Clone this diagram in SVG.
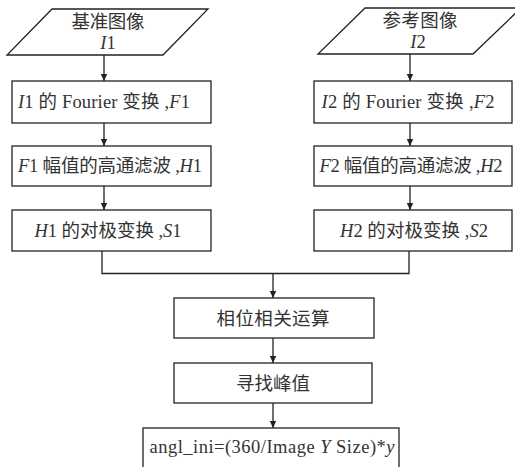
<svg xmlns="http://www.w3.org/2000/svg" width="515" height="467" viewBox="0 0 515 467">
<defs>
<style>
.n{fill:#fff;stroke:#222;stroke-width:1.3}
.c{fill:none;stroke:#222;stroke-width:1.3}
.t{font-family:"Liberation Serif","Noto Sans CJK SC",serif;font-size:18.5px;fill:#333;text-anchor:middle}
.h{font-family:"Noto Sans CJK SC",sans-serif}
.i{font-style:italic}
</style>
<marker id="a" markerWidth="8" markerHeight="8" refX="7" refY="4" orient="auto" markerUnits="userSpaceOnUse">
<path d="M0,0.8 L7,4 L0,7.2 Z" fill="#222"/>
</marker>
</defs>
<rect width="515" height="467" fill="#fff"/>
<g id="connectors">
<path class="c" d="M104,55 V81" marker-end="url(#a)"/>
<path class="c" d="M104,123 V146" marker-end="url(#a)"/>
<path class="c" d="M104,186 V210" marker-end="url(#a)"/>
<path class="c" d="M410,54 V81" marker-end="url(#a)"/>
<path class="c" d="M410,123 V146" marker-end="url(#a)"/>
<path class="c" d="M410,186 V210" marker-end="url(#a)"/>
<path class="c" d="M102,251 V273.5 H409 V251"/>
<path class="c" d="M273,273.5 V298" marker-end="url(#a)"/>
<path class="c" d="M273,338 V363" marker-end="url(#a)"/>
<path class="c" d="M273,403 V428" marker-end="url(#a)"/>
</g>
<g id="in1">
<polygon class="n" points="52,9 208,9 163,55 7,55"/>
<text class="t" x="108" y="28" textLength="73"><tspan class="h">基准图像</tspan></text>
<text class="t" x="108" y="49"><tspan class="i">I</tspan>1</text>
</g>
<g id="in2">
<polygon class="n" points="365,8 521,8 473,54 318,54"/>
<text class="t" x="420" y="27" textLength="75"><tspan class="h">参考图像</tspan></text>
<text class="t" x="418" y="48"><tspan class="i">I</tspan>2</text>
</g>
<g id="f1">
<rect class="n" x="12" y="81" width="199" height="42"/>
<text class="t" x="104" y="108" textLength="172"><tspan class="i">I</tspan>1 <tspan class="h">的</tspan> Fourier <tspan class="h">变换</tspan> ,<tspan class="i">F</tspan>1</text>
</g>
<g id="f2">
<rect class="n" x="314" y="81" width="198" height="42"/>
<text class="t" x="408" y="108" textLength="173"><tspan class="i">I</tspan>2 <tspan class="h">的</tspan> Fourier <tspan class="h">变换</tspan> ,<tspan class="i">F</tspan>2</text>
</g>
<g id="h1">
<rect class="n" x="12" y="146" width="199" height="40"/>
<text class="t" x="110" y="172" textLength="184"><tspan class="i">F</tspan>1 <tspan class="h">幅值的高通滤波</tspan> ,<tspan class="i">H</tspan>1</text>
</g>
<g id="h2">
<rect class="n" x="314" y="146" width="198" height="40"/>
<text class="t" x="411" y="172" textLength="183"><tspan class="i">F</tspan>2 <tspan class="h">幅值的高通滤波</tspan> ,<tspan class="i">H</tspan>2</text>
</g>
<g id="s1">
<rect class="n" x="12" y="210" width="199" height="41"/>
<text class="t" x="108" y="237" textLength="147"><tspan class="i">H</tspan>1 <tspan class="h">的对极变换</tspan> ,<tspan class="i">S</tspan>1</text>
</g>
<g id="s2">
<rect class="n" x="314" y="210" width="198" height="41"/>
<text class="t" x="414" y="237" textLength="148"><tspan class="i">H</tspan>2 <tspan class="h">的对极变换</tspan> ,<tspan class="i">S</tspan>2</text>
</g>
<g id="corr">
<rect class="n" x="174" y="298" width="200" height="40"/>
<text class="t h" x="273" y="325" textLength="113">相位相关运算</text>
</g>
<g id="peak">
<rect class="n" x="174" y="363" width="198" height="40"/>
<text class="t h" x="273" y="390" textLength="74">寻找峰值</text>
</g>
<g id="angle">
<rect class="n" x="143" y="428" width="256" height="60"/>
<text class="t" x="272" y="453" textLength="245">angl_ini=(360/Image <tspan class="i">Y</tspan> Size)*<tspan class="i">y</tspan></text>
</g>
</svg>
